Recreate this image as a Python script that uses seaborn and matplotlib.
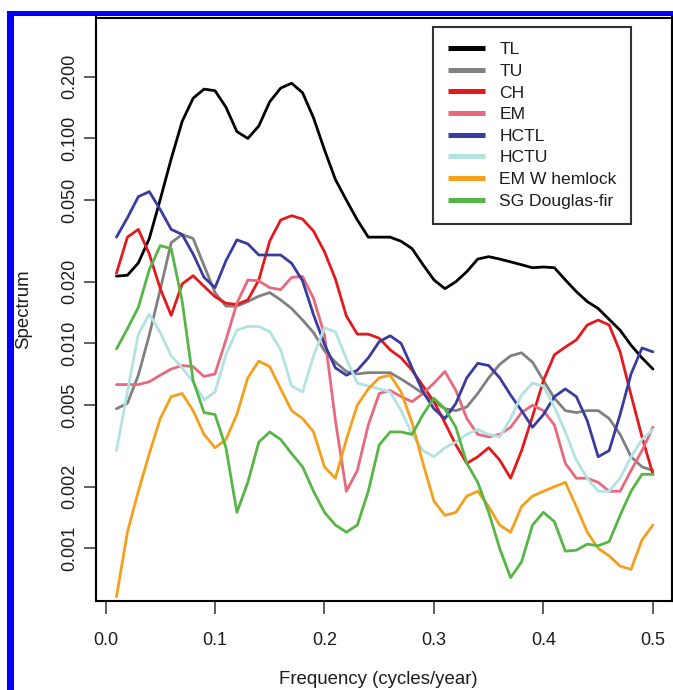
import numpy as np
import pandas as pd
import matplotlib
matplotlib.use("Agg")
import matplotlib.pyplot as plt
import seaborn as sns
from matplotlib.patches import Rectangle
from matplotlib.lines import Line2D
from matplotlib.ticker import NullLocator

# ---------------- data ----------------
freq = [0.01, 0.02, 0.03, 0.04, 0.05, 0.06, 0.07, 0.08, 0.09, 0.10,
        0.11, 0.12, 0.13, 0.14, 0.15, 0.16, 0.17, 0.18, 0.19, 0.20,
        0.21, 0.22, 0.23, 0.24, 0.25, 0.26, 0.27, 0.28, 0.29, 0.30,
        0.31, 0.32, 0.33, 0.34, 0.35, 0.36, 0.37, 0.38, 0.39, 0.40,
        0.41, 0.42, 0.43, 0.44, 0.45, 0.46, 0.47, 0.48, 0.49, 0.50]

TL = [0.0213, 0.0215, 0.0247, 0.0325, 0.0504, 0.0795, 0.121, 0.157, 0.174, 0.171,
      0.142, 0.108, 0.100, 0.115, 0.151, 0.176, 0.186, 0.167, 0.126, 0.088,
      0.063, 0.050, 0.040, 0.033, 0.033, 0.033, 0.0315, 0.029, 0.0242, 0.0204,
      0.0185, 0.020, 0.0224, 0.0258, 0.0265, 0.0258, 0.025, 0.0242, 0.0234, 0.0236,
      0.0234, 0.0204, 0.0179, 0.016, 0.0148, 0.0131, 0.0116, 0.0098, 0.0085, 0.0075]

TU = [0.0048, 0.0051, 0.0070, 0.011, 0.0183, 0.031, 0.034, 0.0325, 0.024, 0.0177,
      0.0152, 0.0152, 0.016, 0.017, 0.0177, 0.0163, 0.0148, 0.0130, 0.0113, 0.0092,
      0.0081, 0.0073, 0.0071, 0.0072, 0.0072, 0.0072, 0.0067, 0.0062, 0.0057, 0.0052,
      0.0048, 0.0047, 0.0049, 0.0057, 0.0068, 0.0079, 0.0087, 0.0090, 0.0081, 0.0066,
      0.0054, 0.0047, 0.0046, 0.0047, 0.0047, 0.0043, 0.0036, 0.0028, 0.0025, 0.0024]

CH = [0.022, 0.033, 0.036, 0.0273, 0.0185, 0.0137, 0.0195, 0.0214, 0.019, 0.0169,
      0.0157, 0.0155, 0.0163, 0.0204, 0.0316, 0.040, 0.042, 0.0404, 0.0353, 0.028,
      0.0206, 0.0136, 0.0111, 0.0111, 0.0106, 0.0093, 0.0085, 0.0074, 0.0062, 0.0052,
      0.0041, 0.0032, 0.0026, 0.0028, 0.0031, 0.0027, 0.0022, 0.0030, 0.0044, 0.0066,
      0.0088, 0.0096, 0.0104, 0.0123, 0.0130, 0.0123, 0.0091, 0.0056, 0.0035, 0.0023]

EM = [0.0063, 0.0063, 0.0063, 0.0065, 0.0070, 0.0075, 0.0078, 0.0077, 0.0069, 0.0071,
      0.0104, 0.0157, 0.0204, 0.0202, 0.0187, 0.0183, 0.021, 0.0212, 0.0166, 0.011,
      0.0042, 0.0019, 0.0024, 0.0040, 0.0057, 0.0059, 0.0055, 0.0052, 0.0057, 0.0064,
      0.0073, 0.0059, 0.0043, 0.0036, 0.0035, 0.0036, 0.0039, 0.0046, 0.0050, 0.0047,
      0.0040, 0.0026, 0.0022, 0.0022, 0.0021, 0.0019, 0.0019, 0.0024, 0.0030, 0.0039]

HCTL = [0.033, 0.041, 0.052, 0.055, 0.045, 0.036, 0.034, 0.0273, 0.021, 0.0187,
        0.0253, 0.032, 0.0306, 0.027, 0.027, 0.027, 0.0246, 0.0202, 0.0138, 0.0099,
        0.0076, 0.0070, 0.0074, 0.0085, 0.0102, 0.0109, 0.0100, 0.0076, 0.0058, 0.0048,
        0.0043, 0.0051, 0.0068, 0.0080, 0.0078, 0.0068, 0.0056, 0.0047, 0.0039, 0.0045,
        0.0055, 0.0060, 0.0055, 0.0042, 0.0028, 0.0030, 0.0045, 0.0071, 0.0095, 0.0091]

HCTU = [0.0030, 0.0058, 0.0111, 0.0139, 0.0113, 0.0087, 0.0076, 0.0065, 0.0053, 0.0058,
        0.0088, 0.0116, 0.0121, 0.0121, 0.0114, 0.0093, 0.0062, 0.0058, 0.0087, 0.0119,
        0.0114, 0.0084, 0.0064, 0.0062, 0.0060, 0.0058, 0.0047, 0.0036, 0.0030, 0.0028,
        0.0031, 0.0033, 0.0036, 0.0038, 0.0036, 0.0035, 0.0043, 0.0056, 0.0064, 0.0062,
        0.0049, 0.0037, 0.0027, 0.0022, 0.0019, 0.0019, 0.0022, 0.0028, 0.0034, 0.0038]

EM_W_hemlock = [0.00058, 0.0012, 0.0019, 0.0029, 0.0043, 0.0055, 0.0057, 0.0047, 0.0036, 0.0031,
                0.0034, 0.0045, 0.0068, 0.0082, 0.0077, 0.0060, 0.0047, 0.0043, 0.0037, 0.0025,
                0.0022, 0.0034, 0.0050, 0.0060, 0.0068, 0.0070, 0.0058, 0.0041, 0.0026, 0.0017,
                0.00145, 0.0015, 0.0018, 0.0019, 0.0016, 0.0013, 0.0012, 0.0016, 0.0018, 0.0019,
                0.0020, 0.0021, 0.0016, 0.0012, 0.0010, 0.00092, 0.00082, 0.00079, 0.0011, 0.0013]

SG_Douglas_fir = [0.0094, 0.0118, 0.0150, 0.0229, 0.030, 0.029, 0.0161, 0.0066, 0.0046, 0.0045,
                  0.0031, 0.0015, 0.0021, 0.0033, 0.0037, 0.0034, 0.0029, 0.0025, 0.0019, 0.0015,
                  0.0013, 0.0012, 0.0013, 0.0019, 0.0032, 0.0037, 0.0037, 0.0036, 0.0045, 0.0054,
                  0.0048, 0.0039, 0.0026, 0.0021, 0.0015, 0.0010, 0.00072, 0.00086, 0.0013, 0.0015,
                  0.00135, 0.00097, 0.00098, 0.00105, 0.00103, 0.00108, 0.00145, 0.0019, 0.0023, 0.0023]

series_names = ["TL", "TU", "CH", "EM", "HCTL", "HCTU", "EM W hemlock", "SG Douglas-fir"]
series_values = [TL, TU, CH, EM, HCTL, HCTU, EM_W_hemlock, SG_Douglas_fir]
series_colors = ["#000000", "#808080", "#E4191C", "#E8697D", "#383C9E", "#B2E2E2", "#F4A01C", "#55B645"]

yticks = [0.001, 0.002, 0.005, 0.01, 0.02, 0.05, 0.1, 0.2]
ytick_labels = ["0.001", "0.002", "0.005", "0.010", "0.020", "0.050", "0.100", "0.200"]
xticks = [0.0, 0.1, 0.2, 0.3, 0.4, 0.5]
xtick_labels = ["0.0", "0.1", "0.2", "0.3", "0.4", "0.5"]

# ---------------- figure ----------------
sns.set_style("white")
plt.rcParams['font.family'] = ['Liberation Sans', 'DejaVu Sans']

W, H = 673, 690
fig = plt.figure(figsize=(W / 100, H / 100), dpi=100)
fig.patch.set_facecolor("white")
ax = fig.add_axes([96 / W, (H - 601) / H, (672 - 96) / W, (601 - 17.5) / H])

rows = []
for name, vals in zip(series_names, series_values):
    for f, v in zip(freq, vals):
        rows.append((name, f, v))
df = pd.DataFrame(rows, columns=["series", "freq", "spec"])
palette = dict(zip(series_names, series_colors))

sns.lineplot(data=df, x="freq", y="spec", hue="series", hue_order=series_names,
             palette=palette, linewidth=2.0, estimator=None, sort=False,
             legend=False, ax=ax)

ax.set_yscale("log")
ax.set_xlim(-0.00868, 0.5174)
ax.set_ylim(0.000554, 0.389)
ax.set_yticks(yticks)
ax.set_yticklabels(ytick_labels)
ax.yaxis.set_minor_locator(NullLocator())
ax.set_xticks(xticks)
ax.set_xticklabels(xtick_labels)
for lab in ax.get_yticklabels():
    lab.set_rotation(90)
    lab.set_va("center")

txt_color = "#1c1c1c"
ax.tick_params(axis="both", which="major", direction="out", length=9, width=1.1,
               color="#333333", labelsize=13, labelcolor=txt_color,
               bottom=True, left=True, top=False, right=False)
ax.tick_params(axis="x", pad=13)
ax.tick_params(axis="y", pad=4)
for sp in ax.spines.values():
    sp.set_visible(True)
    sp.set_color("black")
    sp.set_linewidth(1.5)

ax.set_xlabel("Frequency (cycles/year)", fontsize=13.4, color=txt_color)
ax.set_ylabel("Spectrum", fontsize=13.4, color=txt_color)
ax.xaxis.label.set_va("center")
ax.yaxis.label.set_va("center")
ax.xaxis.set_label_coords(0.49, -0.135)
ax.yaxis.set_label_coords(-0.125, 0.5)
ax.grid(False)

# legend
handles = [Line2D([0], [0], color=c, lw=3.6, solid_capstyle="butt") for c in series_colors]
leg = ax.legend(handles, series_names, loc="upper left",
                bbox_to_anchor=(433 / W, (H - 27) / H), bbox_transform=fig.transFigure,
                borderaxespad=0, frameon=True, fancybox=False, edgecolor="black",
                fontsize=12.6, borderpad=0.86, labelspacing=0.365,
                handlelength=2.1, handletextpad=0.82)
leg.get_frame().set_linewidth(1.5)
for t in leg.get_texts():
    t.set_color(txt_color)

# blue frame of the screenshot
blue = "#0000FF"
fig.add_artist(Rectangle((7 / W, 0), 7 / W, (H - 11) / H, transform=fig.transFigure,
                         facecolor=blue, edgecolor="none"))
fig.add_artist(Rectangle((7 / W, (H - 16) / H), (W - 7) / W, 5 / H, transform=fig.transFigure,
                         facecolor=blue, edgecolor="none"))

fig.savefig("out.png", dpi=100)
